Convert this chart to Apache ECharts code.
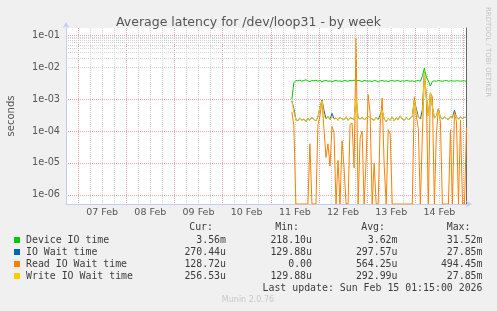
<!DOCTYPE html>
<html>
<head>
<meta charset="utf-8">
<script src="https://cdn.jsdelivr.net/npm/echarts@6/dist/echarts.min.js"></script>
<style>
html,body{margin:0;padding:0;background:#f0f0f0;}
#c{width:497px;height:311px;}
</style>
</head>
<body>
<div id="c"></div>
<script>
// ---- data ----
const dayLabels = ['07 Feb','08 Feb','09 Feb','10 Feb','11 Feb','12 Feb','13 Feb','14 Feb'];
const firstHour = 112.5; // hours after 06 Feb 18:00 of the first sample (hourly samples)
const seriesNames = ['Device IO time','IO Wait time','Read IO Wait time','Write IO Wait time'];
const seriesColors = ['#00cc00','#0066b3','#ff8000','#ffcc00'];

const deviceIO = [
1.0e-3,3.3e-3,3.9e-3,3.8e-3,4.0e-3,3.7e-3,3.9e-3,4.1e-3,3.8e-3,3.6e-3,
3.9e-3,3.8e-3,4.0e-3,3.7e-3,3.9e-3,3.6e-3,3.8e-3,3.9e-3,3.7e-3,3.8e-3,
3.5e-3,3.8e-3,3.9e-3,3.7e-3,3.8e-3,3.6e-3,3.9e-3,3.8e-3,3.7e-3,3.9e-3,
3.8e-3,4.0e-3,3.7e-3,3.9e-3,3.8e-3,3.6e-3,3.9e-3,3.8e-3,3.7e-3,3.8e-3,
3.6e-3,3.9e-3,3.8e-3,3.5e-3,3.8e-3,3.9e-3,3.7e-3,3.8e-3,3.6e-3,3.8e-3,
3.9e-3,3.7e-3,3.8e-3,3.9e-3,3.6e-3,3.8e-3,3.7e-3,3.9e-3,3.8e-3,3.7e-3,
3.8e-3,3.6e-3,3.8e-3,3.9e-3,3.7e-3,5.2e-3,9.5e-3,5.0e-3,3.8e-3,2.6e-3,
3.6e-3,3.8e-3,3.7e-3,3.9e-3,3.8e-3,3.7e-3,3.8e-3,3.9e-3,3.7e-3,3.8e-3,
3.8e-3,3.7e-3,3.8e-3,3.8e-3,3.7e-3,3.8e-3,3.8e-3,3.6e-3];

const ioWait = [
9.0e-4,5.0e-4,2.3e-4,2.1e-4,2.6e-4,2.2e-4,2.4e-4,2.0e-4,2.5e-4,2.2e-4,
2.7e-4,2.3e-4,2.1e-4,2.8e-4,5.5e-4,9.5e-4,4.5e-4,2.4e-4,2.9e-4,2.3e-4,
3.6e-4,2.4e-4,2.6e-4,2.2e-4,2.7e-4,2.4e-4,2.3e-4,2.8e-4,2.2e-4,2.6e-4,
2.5e-4,2.3e-4,1.1e-3,2.6e-4,2.4e-4,2.7e-4,2.3e-4,2.5e-4,2.9e-4,2.6e-4,
2.4e-4,2.2e-4,2.7e-4,2.3e-4,3.2e-4,4.5e-4,2.4e-4,2.0e-4,2.5e-4,2.2e-4,
2.8e-4,2.1e-4,2.6e-4,2.3e-4,3.0e-4,2.4e-4,2.2e-4,2.7e-4,2.3e-4,2.5e-4,
2.9e-4,9.5e-4,5.0e-4,2.8e-4,2.4e-4,4.6e-4,7.0e-3,1.2e-3,3.0e-4,1.5e-3,
6.0e-4,2.6e-4,3.0e-4,5.0e-4,2.7e-4,2.4e-4,2.8e-4,2.5e-4,2.3e-4,2.9e-4,
2.6e-4,4.5e-4,2.7e-4,2.4e-4,2.8e-4,2.5e-4,2.7e-4,2.7e-4];

const readIO = [
4.0e-4,1.5e-4,0,0,0,0,0,0,0,4.0e-5,
0,0,0,1.6e-4,3.0e-4,9.0e-4,1.2e-4,1.5e-5,4.0e-5,8.0e-6,
1.4e-4,9.0e-5,0,1.2e-5,0,5.0e-5,7.0e-6,0,0,1.6e-4,
1.8e-4,7.0e-6,8.5e-2,0,6.0e-5,1.0e-4,0,1.2e-5,1.4e-3,3.5e-4,
0,1.0e-5,0,0,1.5e-4,1.1e-3,8.0e-6,0,1.1e-4,8.0e-5,
0,0,0,0,0,0,0,0,0,0,
0,1.2e-3,3.0e-4,1.2e-4,0,7.0e-5,5.0e-3,1.0e-3,0,1.6e-3,
1.2e-3,0,8.0e-5,5.0e-4,2.0e-4,0,0,0,0,1.1e-4,
0,4.0e-4,2.0e-4,0,2.2e-4,0,0,1.3e-4];

const writeIO = [
9.0e-4,4.0e-4,2.3e-4,2.1e-4,2.6e-4,2.2e-4,2.4e-4,2.0e-4,2.5e-4,2.2e-4,
2.7e-4,2.3e-4,2.1e-4,2.8e-4,5.5e-4,9.0e-4,3.0e-4,2.4e-4,2.9e-4,2.3e-4,
2.8e-4,2.4e-4,2.6e-4,2.2e-4,2.7e-4,2.4e-4,2.3e-4,2.8e-4,2.2e-4,2.6e-4,
2.5e-4,2.3e-4,1.1e-3,2.6e-4,2.4e-4,2.7e-4,2.3e-4,2.5e-4,2.9e-4,2.6e-4,
2.4e-4,2.2e-4,2.7e-4,2.3e-4,2.6e-4,4.5e-4,2.4e-4,2.0e-4,2.5e-4,2.2e-4,
2.8e-4,2.1e-4,2.6e-4,2.3e-4,3.0e-4,2.4e-4,2.2e-4,2.7e-4,2.3e-4,2.5e-4,
2.9e-4,9.0e-4,4.0e-4,2.8e-4,2.4e-4,2.6e-4,7.0e-3,1.2e-3,3.0e-4,1.5e-3,
6.0e-4,2.6e-4,3.0e-4,4.5e-4,2.7e-4,2.4e-4,2.8e-4,2.5e-4,2.3e-4,2.9e-4,
2.6e-4,3.5e-4,2.7e-4,2.4e-4,2.8e-4,2.5e-4,2.7e-4,2.6e-4];

const legendHeaders = ['Cur:','Min:','Avg:','Max:'];
const legendCur = ['3.56m','270.44u','128.72u','256.53u'];
const legendMin = ['218.10u','129.88u','0.00','129.88u'];
const legendAvg = ['3.62m','297.57u','564.25u','292.99u'];
const legendMax = ['31.52m','27.85m','494.45m','27.85m'];
const lastUpdate = 'Last update: Sun Feb 15 01:15:00 2026';

// ---- chart ----
const Y_MIN = Math.pow(10, -6.29), Y_MAX = Math.pow(10, -0.76);
const X_MAX = 199.25;
const series = [deviceIO, ioWait, readIO, writeIO];
function pts(arr){ return arr.map((v,i)=>[firstHour+i, v===0 ? Y_MIN : v]); }

const minorLines = [];
for (let d=-7; d<=-1; d++) for (let k=2; k<=9; k++){
  const v = k*Math.pow(10,d);
  if (v>Y_MIN && v<Y_MAX) minorLines.push({yAxis:v});
}

const RED = '#e3a5a5', GRAY = '#d4d4d4';
const chart = echarts.init(document.getElementById('c'), null, {renderer:'canvas'});
const mono = 'DejaVu Sans Mono';
const txtColor = '#3c3c3c';
const graphics = [];
const rowsY = [240, 252, 264, 276];
const colX = [226, 312, 397.5, 482.5];
const headX = [213, 299, 385, 470.5];
legendHeaders.forEach((h,j)=>graphics.push({type:'text', style:{x:headX[j], y:227.5, text:h, align:'right', verticalAlign:'middle', font:'9.9px '+mono, fill:txtColor}}));
seriesNames.forEach((n,i)=>{
  graphics.push({type:'rect', shape:{x:14, y:rowsY[i]-3, width:6, height:6}, style:{fill:seriesColors[i]}});
  graphics.push({type:'text', style:{x:26, y:rowsY[i], text:n, align:'left', verticalAlign:'middle', font:'9.9px '+mono, fill:txtColor}});
  [legendCur, legendMin, legendAvg, legendMax].forEach((col,j)=>{
    graphics.push({type:'text', style:{x:colX[j], y:rowsY[i], text:col[i], align:'right', verticalAlign:'middle', font:'9.9px '+mono, fill:txtColor}});
  });
});
graphics.push({type:'text', style:{x:482.5, y:288, text:lastUpdate, align:'right', verticalAlign:'middle', font:'9.9px '+mono, fill:txtColor}});
graphics.push({type:'text', style:{x:248, y:300, text:'Munin 2.0.76', align:'center', verticalAlign:'middle', font:'8px DejaVu Sans', fill:'#c8c8c8'}});
graphics.push({type:'text', x:11, y:116, rotation:Math.PI/2, style:{x:0, y:0, text:'seconds', align:'center', verticalAlign:'middle', font:'10px DejaVu Sans', fill:'#555'}});
graphics.push({type:'text', x:488, y:52, rotation:-Math.PI/2, style:{x:0, y:0, text:'RRDTOOL / TOBI OETIKER', align:'center', verticalAlign:'middle', font:'7px DejaVu Sans', fill:'#c4c4c4'}});

chart.setOption({
  animation:false,
  backgroundColor:'#f0f0f0',
  title:{text:'Average latency for /dev/loop31 - by week', left:'center', top:11,
    textStyle:{fontFamily:'DejaVu Sans', fontSize:12.5, fontWeight:'normal', color:'#555'}},
  grid:{left:66, right:31, top:28, bottom:107, show:true, backgroundColor:'#ffffff', borderWidth:0},
  xAxis:{type:'value', min:0, max:X_MAX, interval:6,
    axisLine:{show:true, lineStyle:{color:'#c4ccf4', width:1}, symbol:['none','arrow'], symbolSize:[5,6], symbolOffset:[0,6]},
    axisTick:{show:false},
    axisLabel:{margin:4, fontFamily:'DejaVu Sans', fontSize:9.5, color:'#555', showMinLabel:true, showMaxLabel:false,
      formatter:function(v){ const k=(v-18)/24; return (Number.isInteger(k) && k>=0 && k<dayLabels.length) ? dayLabels[k] : ''; }},
    splitLine:{show:true, showMaxLine:false, lineStyle:{color:[GRAY, RED, GRAY, GRAY], type:[1,1], width:1}}
  },
  yAxis:[{type:'log', logBase:10, min:Y_MIN, max:Y_MAX,
    axisLine:{show:true, lineStyle:{color:'#c4ccf4', width:1}, symbol:['none','arrow'], symbolSize:[5,6], symbolOffset:[0,6]},
    axisTick:{show:false},
    axisLabel:{margin:6, fontFamily:'DejaVu Sans', fontSize:9.7, color:'#555', showMinLabel:false, showMaxLabel:false,
      formatter:function(v){ const e=Math.log10(v); const r=Math.round(e); if (Math.abs(e-r)>1e-6) return ''; return '1e-0'+(-r); }},
    splitLine:{show:true, showMinLine:false, showMaxLine:false, lineStyle:{color:RED, type:[1,1], width:1}}
  },{type:'value', position:'right', min:0, max:1, axisLine:{show:true, lineStyle:{color:'#666', width:1}},
    axisTick:{show:false}, axisLabel:{show:false}, splitLine:{show:false}}],
  graphic:graphics,
  series:[
    {type:'line', data:[], z:1, silent:true, markLine:{silent:true, symbol:'none', label:{show:false}, animation:false,
      lineStyle:{color:GRAY, type:[1,1], width:1}, data:minorLines}},
  ].concat(series.map((arr,i)=>({
    name:seriesNames[i], type:'line', data:pts(arr), showSymbol:false, symbol:'none', clip:true, z:2+i,
    lineStyle:{color:seriesColors[i], width:1}, itemStyle:{color:seriesColors[i]}
  })))
});
</script>
</body>
</html>
